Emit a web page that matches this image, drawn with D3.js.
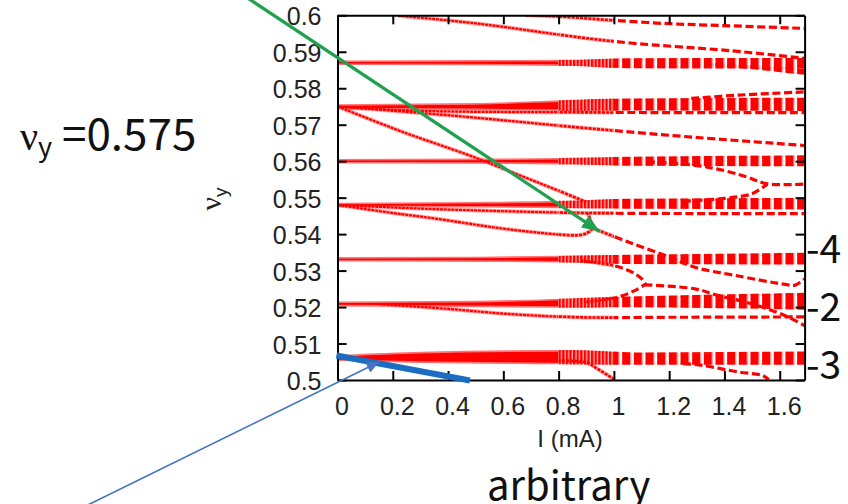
<!DOCTYPE html>
<html>
<head>
<meta charset="utf-8">
<script src="https://cdn.jsdelivr.net/npm/d3@7"></script>
<style>
  body { margin: 0; background: #fff; }
  svg { display: block; }
</style>
</head>
<body>
<div id="chart"></div>
<script>
// wide resonance bands: [I (mA), nu low, nu high]
var band5870 = [[0, 0.5866, 0.5874], [0.5, 0.5865, 0.5875], [0.85, 0.5863, 0.5876], [1.05, 0.5857, 0.5880], [1.69, 0.5856, 0.5881]]
var band5845 = [[1.35, 0.5864, 0.5868], [1.52, 0.5853, 0.5860], [1.69, 0.5839, 0.5851]]
var band5750 = [[0, 0.5744, 0.5754], [0.5, 0.5742, 0.5757], [0.85, 0.5740, 0.5766], [1.05, 0.5741, 0.5770], [1.69, 0.5740, 0.5772]]
var band5600 = [[0, 0.5596, 0.5604], [0.5, 0.5595, 0.5605], [0.85, 0.5593, 0.5607], [1.05, 0.5590, 0.5610], [1.69, 0.5588, 0.5614]]
var band5483 = [[0, 0.5476, 0.5484], [0.5, 0.5475, 0.5486], [0.85, 0.5473, 0.5490], [1.05, 0.5472, 0.5495], [1.69, 0.5470, 0.5497]]
var band5330 = [[0, 0.5327, 0.5335], [0.5, 0.5326, 0.5336], [0.85, 0.5324, 0.5339], [1.05, 0.5320, 0.5341], [1.69, 0.5319, 0.5347]]
var band5209 = [[0, 0.5204, 0.5213], [0.5, 0.5202, 0.5215], [0.85, 0.5200, 0.5222], [1.05, 0.5202, 0.5227], [1.69, 0.5195, 0.5237]]
var band5060 = [[0, 0.5054, 0.5066], [0.3, 0.5049, 0.5075], [0.85, 0.5045, 0.5080], [1.1, 0.5044, 0.5073], [1.69, 0.5044, 0.5076]]

// single tune lines: [I (mA), nu]
var curveA = [[0.22, 0.5999], [0.51, 0.5977], [0.87, 0.5940], [1.06, 0.5924], [1.42, 0.5903], [1.69, 0.5882]]
var curveB = [[0.68, 0.6000], [0.84, 0.5995], [1.0, 0.5986], [1.2, 0.5977], [1.39, 0.5972], [1.69, 0.5964]]
var curveD2 = [[0, 0.5749], [0.3, 0.5738], [0.86, 0.5734], [1.69, 0.5733]]
var curveD3 = [[1.28, 0.5772], [1.45, 0.5781], [1.69, 0.5790]]
var curveE1 = [[0, 0.5750], [0.43, 0.5724], [0.865, 0.5693], [1.25, 0.5668], [1.69, 0.5643]]
var curveE2 = [[0, 0.5750], [0.24, 0.5679], [0.48, 0.5615], [0.67, 0.5558], [0.79, 0.5522], [0.9, 0.5488]]
var curveHup = [[1.12, 0.5599], [1.30, 0.5588], [1.40, 0.5574], [1.48, 0.5557], [1.555, 0.5538], [1.69, 0.5537]]
var curveHlo = [[1.25, 0.5490], [1.40, 0.5498], [1.50, 0.5511], [1.555, 0.5537]]
var curveI2 = [[0, 0.5480], [0.3, 0.5470], [0.6, 0.5463], [0.9, 0.5458], [1.69, 0.5456]]
var curveF = [[0, 0.5480], [0.18, 0.5460], [0.36, 0.5442], [0.60, 0.5415], [0.80, 0.5399], [0.87, 0.5397], [0.90, 0.5402], [0.92, 0.5414], [0.915, 0.5438], [0.905, 0.5457]]
var curveK = [[0.925, 0.5416], [1.05, 0.5379], [1.184, 0.5342], [1.293, 0.5309], [1.437, 0.5287], [1.62, 0.5262], [1.655, 0.5260], [1.69, 0.5277]]
var curveBu = [[0.88, 0.5327], [1.003, 0.5313], [1.06, 0.5298], [1.10, 0.5278], [1.115, 0.5262]]
var curveBl = [[0.90, 0.5214], [1.014, 0.5227], [1.075, 0.5245], [1.111, 0.5261]]
var curveP = [[1.111, 0.5261], [1.293, 0.5250], [1.376, 0.5232], [1.499, 0.5209], [1.618, 0.5177], [1.69, 0.5149]]
var curveM2 = [[0.15, 0.5208], [0.4, 0.5195], [0.6, 0.5182], [0.87, 0.5172], [1.2, 0.5172], [1.69, 0.5173]]
var curveN1 = [[0.72, 0.5052], [0.90, 0.5048], [0.94, 0.5031], [0.98, 0.5012], [1.0, 0.5002]]
var curveN2 = [[1.25, 0.5045], [1.321, 0.5040], [1.45, 0.5022], [1.539, 0.5012], [1.56, 0.5001]]

// ticks
var xTicks = [0, 0.2, 0.4, 0.6, 0.8, 1, 1.2, 1.4, 1.6]
var xTickLabels = ["0", "0.2", "0.4", "0.6", "0.8", "1", "1.2", "1.4", "1.6"]
var yTicks = [0.5, 0.51, 0.52, 0.53, 0.54, 0.55, 0.56, 0.57, 0.58, 0.59, 0.6]
var yTickLabels = ["0.5", "0.51", "0.52", "0.53", "0.54", "0.55", "0.56", "0.57", "0.58", "0.59", "0.6"]

// annotation strokes, in data units
var greenArrow = [[-0.40, 0.6085], [0.949, 0.5407]]
var blueBar = [[-0.004, 0.5067], [0.479, 0.49986]]
var blueArrow = [[-0.95, 0.4640], [0.152, 0.5050]]

var bands = [band5870, band5845, band5750, band5600, band5483, band5330, band5209, band5060]
var curves = [curveA, curveB, curveD2, curveD3, curveE1, curveE2, curveHup, curveHlo, curveI2,
  curveF, curveK, curveBu, curveBl, curveP, curveM2, curveN1, curveN2]

var width = 848, height = 504
var sansFont = "'Liberation Sans', Arial, sans-serif"
var jpFont = "'Noto Sans CJK JP', 'Noto Sans', sans-serif"
var red = "#ff0000"

var svg = d3.select("#chart").append("svg")
  .attr("width", width)
  .attr("height", height)
  .style("overflow", "hidden")

var x = d3.scaleLinear().domain([0, 1.69]).range([337.5, 804.6])
var y = d3.scaleLinear().domain([0.5, 0.6]).range([380, 15.3])

var defs = svg.append("defs")

// plot clips: dense sampling, transition, coarse sampling
function addClip(id, x0, x1) {
  defs.append("clipPath").attr("id", id)
    .append("rect")
    .attr("x", x(x0)).attr("y", y(0.6))
    .attr("width", x(x1) - x(x0)).attr("height", y(0.5) - y(0.6))
}
addClip("clipL", 0, 0.8)
addClip("clipM", 0.8, 1.0)
addClip("clipR", 1.0, 1.69)

function addStripes(id, x0, period, solid) {
  var p = defs.append("pattern")
    .attr("id", id)
    .attr("patternUnits", "userSpaceOnUse")
    .attr("x", x0).attr("y", 0)
    .attr("width", period).attr("height", 6)
  p.append("rect").attr("width", solid).attr("height", 6).attr("fill", red)
  p.append("rect").attr("x", solid).attr("width", Math.min(0.9, period - solid)).attr("height", 6).attr("fill", "#ff9c9c")
}
var step = x(0.0422) - x(0)
addStripes("blocks", x(1.03), step, step - 3.4)
addStripes("hatch", x(0.8), 3.6, 2.5)

// arrow heads
function addMarker(id, len, wid, color) {
  defs.append("marker").attr("id", id)
    .attr("viewBox", (-len) + " " + (-wid / 2) + " " + len + " " + wid)
    .attr("refX", 0).attr("refY", 0)
    .attr("markerWidth", len).attr("markerHeight", wid)
    .attr("markerUnits", "userSpaceOnUse")
    .attr("orient", "auto")
    .append("path")
    .attr("d", "M0,0L" + (-len) + "," + (-wid / 2) + "L" + (-len) + "," + (wid / 2) + "Z")
    .attr("fill", color)
}
addMarker("headGreen", 18, 14, "#21a050")
addMarker("headBlue", 13, 11, "#4472c4")

var area = d3.area()
  .x(function(d) { return x(d[0]) })
  .y0(function(d) { return y(d[1]) })
  .y1(function(d) { return y(d[2]) })
  .curve(d3.curveMonotoneX)

var line = d3.line()
  .x(function(d) { return x(d[0]) })
  .y(function(d) { return y(d[1]) })
  .curve(d3.curveCatmullRom.alpha(0.5))

// draw one sampling region
function drawRegion(clipId, bandFill, bandEdge, curveWidth, dash, halo) {
  var g = svg.append("g").attr("clip-path", "url(#" + clipId + ")")
  if (halo) {
    g.selectAll(".halo")
      .data(curves)
      .enter()
      .append("path")
      .attr("d", line)
      .attr("fill", "none")
      .attr("stroke", "#ffa3a3")
      .attr("stroke-width", 4)
  }
  g.selectAll(".band")
    .data(bands)
    .enter()
    .append("path")
    .attr("d", area)
    .attr("fill", bandFill)
    .attr("stroke", bandEdge)
    .attr("stroke-width", 1.6)
  g.selectAll(".curve")
    .data(curves)
    .enter()
    .append("path")
    .attr("d", line)
    .attr("fill", "none")
    .attr("stroke", red)
    .attr("stroke-width", curveWidth)
    .attr("stroke-dasharray", dash)
}
drawRegion("clipL", red, "#ff7373", 2.2, "3,0.8", true)
drawRegion("clipM", "url(#hatch)", "url(#hatch)", 2.6, "3,1.2", true)
drawRegion("clipR", "url(#blocks)", "url(#blocks)", 3.2, "8,3.6", false)

// frame and ticks
function styleAxis(g) {
  g.selectAll("path, line").attr("stroke", "#000").attr("stroke-width", 2)
  g.selectAll("text")
    .attr("font-family", sansFont)
    .attr("font-size", 25)
    .attr("fill", "#222")
}

svg.append("g")
  .attr("transform", "translate(0," + y(0.5) + ")")
  .call(d3.axisBottom(x).tickValues(xTicks).tickSize(-9).tickSizeOuter(0).tickPadding(17)
    .tickFormat(function(d, i) { return xTickLabels[i] }))
  .call(styleAxis)
  .selectAll("text").attr("dx", 4)

svg.append("g")
  .attr("transform", "translate(0," + y(0.6) + ")")
  .call(d3.axisTop(x).tickValues(xTicks).tickSize(-9).tickSizeOuter(0).tickFormat(""))
  .call(styleAxis)

svg.append("g")
  .attr("transform", "translate(" + x(0) + ",0)")
  .call(d3.axisLeft(y).tickValues(yTicks).tickSize(-9).tickSizeOuter(0).tickPadding(16)
    .tickFormat(function(d, i) { return yTickLabels[i] }))
  .call(styleAxis)
  .selectAll("text").attr("dy", "0.38em")

svg.append("g")
  .attr("transform", "translate(" + x(1.69) + ",0)")
  .call(d3.axisRight(y).tickValues(yTicks).tickSize(-9).tickSizeOuter(0).tickFormat(""))
  .call(styleAxis)

// axis titles
svg.append("text")
  .attr("x", 570).attr("y", 447)
  .attr("text-anchor", "middle")
  .attr("font-family", sansFont)
  .attr("font-size", 24)
  .attr("fill", "#222")
  .text("I (mA)")

var ylab = svg.append("text")
  .attr("transform", "translate(221,199) rotate(-90)")
  .attr("text-anchor", "middle")
  .attr("fill", "#222")
ylab.append("tspan").attr("font-family", "'Liberation Serif', serif").attr("font-size", 30).text("ν")
ylab.append("tspan").attr("font-family", sansFont).attr("font-size", 19).attr("dy", 6).text("y")

// annotations
svg.append("line")
  .attr("x1", x(greenArrow[0][0])).attr("y1", y(greenArrow[0][1]))
  .attr("x2", x(greenArrow[1][0])).attr("y2", y(greenArrow[1][1]))
  .attr("stroke", "#21a050")
  .attr("stroke-width", 3.2)
  .attr("marker-end", "url(#headGreen)")

svg.append("line")
  .attr("x1", x(blueBar[0][0])).attr("y1", y(blueBar[0][1]))
  .attr("x2", x(blueBar[1][0])).attr("y2", y(blueBar[1][1]))
  .attr("stroke", "#1c6dc1")
  .attr("stroke-width", 6)

svg.append("line")
  .attr("x1", x(blueArrow[0][0])).attr("y1", y(blueArrow[0][1]))
  .attr("x2", x(blueArrow[1][0])).attr("y2", y(blueArrow[1][1]))
  .attr("stroke", "#4472c4")
  .attr("stroke-width", 1.6)
  .attr("marker-end", "url(#headBlue)")

// slide texts
var nu = svg.append("text").attr("x", 20).attr("y", 150).attr("fill", "#111")
nu.append("tspan").attr("font-family", "'Liberation Serif', serif").attr("font-size", 40).text("ν")
nu.append("tspan").attr("font-family", jpFont).attr("font-size", 27).attr("dy", 7).text("y")
nu.append("tspan").attr("x", 62).attr("dy", -7).attr("font-family", jpFont).attr("font-size", 44).text("=0.575")

svg.append("text")
  .attr("x", 487).attr("y", 500)
  .attr("font-family", jpFont)
  .attr("font-size", 40)
  .attr("fill", "#111")
  .text("arbitrary")

var sideLabels = [["-4", 263], ["-2", 321], ["-3", 379]]
svg.selectAll(".side")
  .data(sideLabels)
  .enter()
  .append("text")
  .attr("x", 806)
  .attr("y", function(d) { return d[1] })
  .attr("font-family", jpFont)
  .attr("font-size", 39)
  .attr("fill", "#111")
  .text(function(d) { return d[0] })
</script>
</body>
</html>
